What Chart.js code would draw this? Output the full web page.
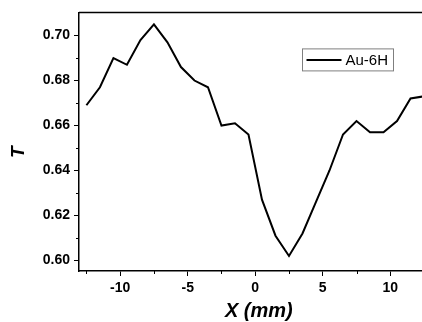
<!DOCTYPE html>
<html>
<head>
<meta charset="utf-8">
<script src="https://cdn.jsdelivr.net/npm/chart.js@4/dist/chart.umd.min.js"></script>
<style>
  html, body { margin: 0; padding: 0; background: #fff; }
  #wrap { width: 422px; height: 322px; }
</style>
</head>
<body>
<div id="wrap"><canvas id="chart" width="422" height="322"></canvas></div>
<script>
// scan position (mm) and transmittance
const positions = [-12.5, -11.5, -10.5, -9.5, -8.5, -7.5, -6.5, -5.5, -4.5, -3.5, -2.5, -1.5, -0.5,
  0.5, 1.5, 2.5, 3.5, 4.5, 5.5, 6.5, 7.5, 8.5, 9.5, 10.5, 11.5, 12.5];
const transmittance = [0.669, 0.677, 0.690, 0.687, 0.698, 0.705, 0.697, 0.686, 0.680, 0.677, 0.660, 0.661, 0.656,
  0.627, 0.611, 0.602, 0.612, 0.626, 0.640, 0.656, 0.662, 0.657, 0.657, 0.662, 0.672, 0.673];
const seriesName = 'Au-6H';

const xMajorTicks = [-10, -5, 0, 5, 10];
const xMinorTicks = [-12.5, -7.5, -2.5, 2.5, 7.5, 12.5];
const yMajorTicks = [0.60, 0.62, 0.64, 0.66, 0.68, 0.70];
const yMinorTicks = [0.61, 0.63, 0.65, 0.67, 0.69];

const FONT = '"Liberation Sans", Arial, sans-serif';
Chart.defaults.color = '#000';
Chart.defaults.font.family = FONT;

// top frame line, minor ticks and the boxed legend
const framePlugin = {
  id: 'frame',
  afterDraw(chart) {
    const { ctx, chartArea: a, scales: { x, y } } = chart;
    ctx.save();
    ctx.strokeStyle = '#000';
    ctx.lineWidth = 1.5;
    ctx.beginPath();
    ctx.moveTo(a.left, a.top);
    ctx.lineTo(a.right, a.top);
    ctx.stroke();

    ctx.lineWidth = 1;
    xMinorTicks.forEach(v => {
      const px = Math.round(x.getPixelForValue(v)) + 0.5;
      if (px < a.left || px > a.right) return;
      ctx.beginPath();
      ctx.moveTo(px, a.bottom);
      ctx.lineTo(px, a.bottom + 3);
      ctx.stroke();
    });
    yMinorTicks.forEach(v => {
      const py = Math.round(y.getPixelForValue(v)) + 0.5;
      ctx.beginPath();
      ctx.moveTo(a.left, py);
      ctx.lineTo(a.left - 3, py);
      ctx.stroke();
    });

    // legend box
    const ds = chart.data.datasets[0];
    const bx = a.right - 119.5, by = a.top + 36.5, bw = 91, bh = 22;
    ctx.strokeStyle = '#7f7f7f';
    ctx.lineWidth = 1;
    ctx.strokeRect(bx, by, bw, bh);
    ctx.strokeStyle = ds.borderColor;
    ctx.lineWidth = ds.borderWidth;
    ctx.beginPath();
    ctx.moveTo(bx + 4, by + 11);
    ctx.lineTo(bx + 39, by + 11);
    ctx.stroke();
    ctx.fillStyle = '#000';
    ctx.font = '15px ' + FONT;
    ctx.textBaseline = 'middle';
    ctx.textAlign = 'left';
    ctx.fillText(ds.label, bx + 43, by + 11.5);
    ctx.restore();
  }
};

new Chart(document.getElementById('chart'), {
  type: 'line',
  data: {
    datasets: [{
      label: seriesName,
      data: positions.map((p, i) => ({ x: p, y: transmittance[i] })),
      borderColor: '#000',
      borderWidth: 2,
      pointRadius: 0,
      tension: 0,
      fill: false
    }]
  },
  options: {
    responsive: false,
    animation: false,
    events: [],
    layout: { padding: { top: 11, right: 0, bottom: 0, left: 0 } },
    plugins: { legend: { display: false }, tooltip: { enabled: false } },
    scales: {
      x: {
        type: 'linear',
        min: -13.05,
        max: 12.35,
        afterBuildTicks: s => { s.ticks = xMajorTicks.map(v => ({ value: v })); },
        afterFit: s => { s.height = 51; s.paddingLeft = 0; s.paddingRight = 0; },
        border: { display: true, color: '#000', width: 1.5 },
        grid: { drawOnChartArea: false, drawTicks: true, tickLength: 5, color: '#000', tickWidth: 1 },
        ticks: { padding: 4, maxRotation: 0, font: { size: 14, weight: 'bold' }, callback: v => String(v) },
        title: {
          display: true,
          text: '   X (mm)',
          font: { size: 20, weight: 'bold', style: 'italic', lineHeight: 1 },
          padding: { top: 0, bottom: 1 }
        }
      },
      y: {
        type: 'linear',
        min: 0.5953,
        max: 0.7103,
        afterBuildTicks: s => { s.ticks = yMajorTicks.map(v => ({ value: v })); },
        afterFit: s => { s.width = 79; },
        border: { display: true, color: '#000', width: 1.5 },
        grid: { drawOnChartArea: false, drawTicks: true, tickLength: 5, color: '#000', tickWidth: 1 },
        ticks: { padding: 4, font: { size: 14, weight: 'bold' }, callback: v => v.toFixed(2) },
        title: {
          display: true,
          text: 'T    ',
          font: { size: 19, weight: 'bold', style: 'italic', lineHeight: 1 },
          padding: { top: 9, bottom: 0 }
        }
      }
    }
  },
  plugins: [framePlugin]
});
</script>
</body>
</html>
